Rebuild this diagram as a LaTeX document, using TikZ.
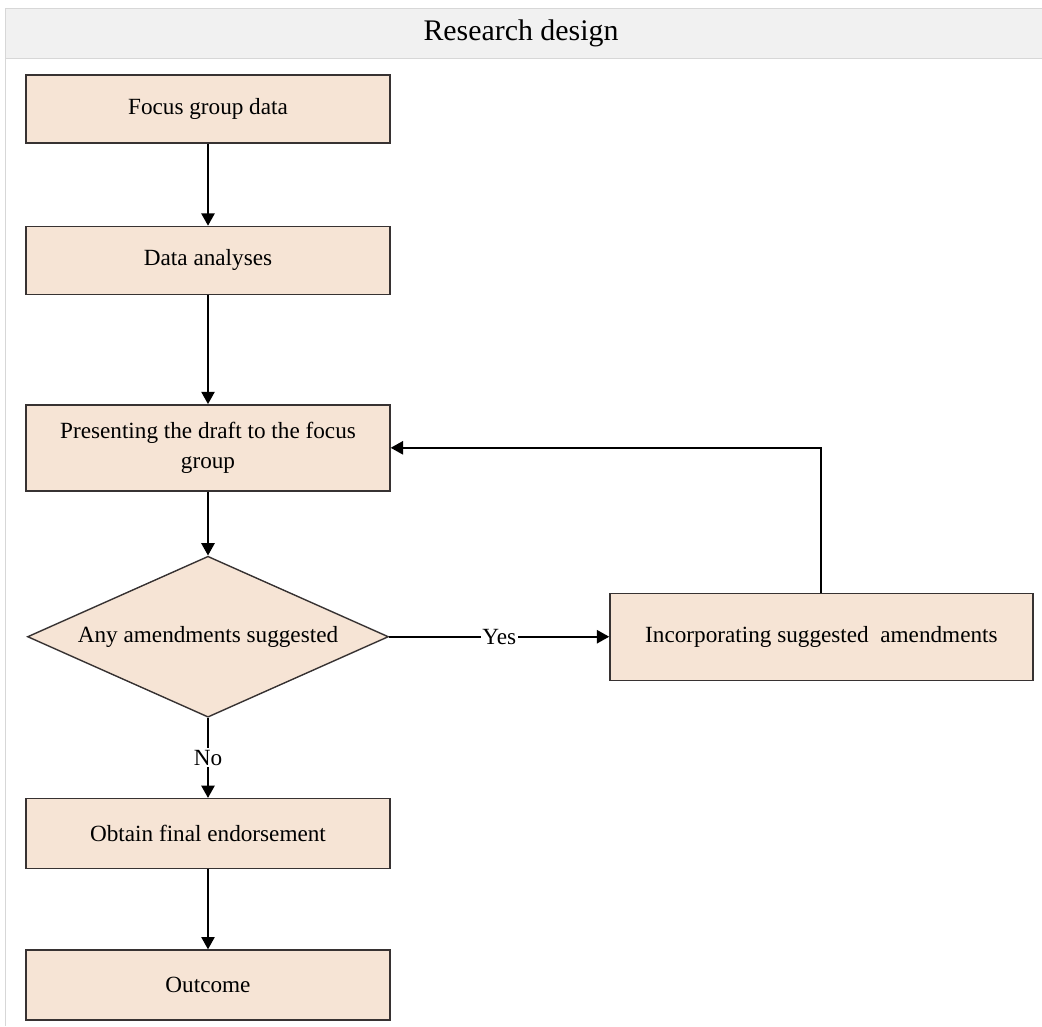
\documentclass[tikz,border=0pt]{standalone}
\usepackage{fontspec}
\setmainfont{Liberation Serif}
\usetikzlibrary{positioning,shapes.geometric,arrows.meta}

\definecolor{boxfill}{RGB}{246,228,213}
\definecolor{boxline}{RGB}{55,50,50}
\definecolor{headfill}{RGB}{241,241,241}
\definecolor{headline}{RGB}{215,215,215}

\begin{document}
\begin{tikzpicture}
\tikzstyle{stepbox}=[draw=boxline, fill=boxfill, line width=0.8pt, minimum width=7.28cm, minimum height=1.36cm, align=center, font=\fontsize{13.2}{17}\selectfont]
\tikzstyle{choicebox}=[diamond, draw=boxline, fill=boxfill, line width=0.8pt, aspect=2.2, inner sep=0pt, minimum width=7.22cm, minimum height=3.22cm, font=\fontsize{13.2}{16}\selectfont]
\tikzstyle{flow}=[line width=1.1pt, -{Triangle[length=7pt,width=7.5pt]}]
\tikzstyle{tag}=[fill=white, inner sep=1pt, font=\fontsize{13.2}{16}\selectfont]
\useasboundingbox (0,0) rectangle (20.84,-20.52);
% frame and title band
\draw[headline, fill=headfill] (0.1,-0.16) rectangle (20.9,-1.16);
\node (titlenode) at (10.42,-0.66) {\fontsize{17}{20}\selectfont Research design};
\draw[headline] (0.1,-1.16) -- (0.1,-20.52);
% main column
\node[stepbox] (focusnode) at (4.16,-2.18) {Focus group data};
\node[stepbox, below=1.64cm of focusnode] (analysisnode) {Data analyses};
\node[stepbox, minimum height=1.72cm, below=2.18cm of analysisnode] (presentnode) {Presenting the draft to the focus\\group};
\node[choicebox, below=1.28cm of presentnode] (decisionnode) {Any amendments suggested};
\node[stepbox, minimum height=1.40cm, below=1.60cm of decisionnode] (endorsenode) {Obtain final endorsement};
\node[stepbox, minimum height=1.40cm, below=1.60cm of endorsenode] (outcomenode) {Outcome};
% side branch
\node[stepbox, minimum width=8.46cm, minimum height=1.74cm, right=4.4cm of decisionnode] (incorpnode) {Incorporating suggested~~amendments};
% connectors
\draw[flow] (focusnode) -- (analysisnode);
\draw[flow] (analysisnode) -- (presentnode);
\draw[flow] (presentnode) -- (decisionnode);
\draw[flow] (decisionnode) -- node[tag] (yesnode) {Yes} (incorpnode);
\draw[flow] (incorpnode.north) |- (presentnode.east);
\draw[flow] (decisionnode) -- node[tag] (nonode) {No} (endorsenode);
\draw[flow] (endorsenode) -- (outcomenode);
\end{tikzpicture}
\end{document}
